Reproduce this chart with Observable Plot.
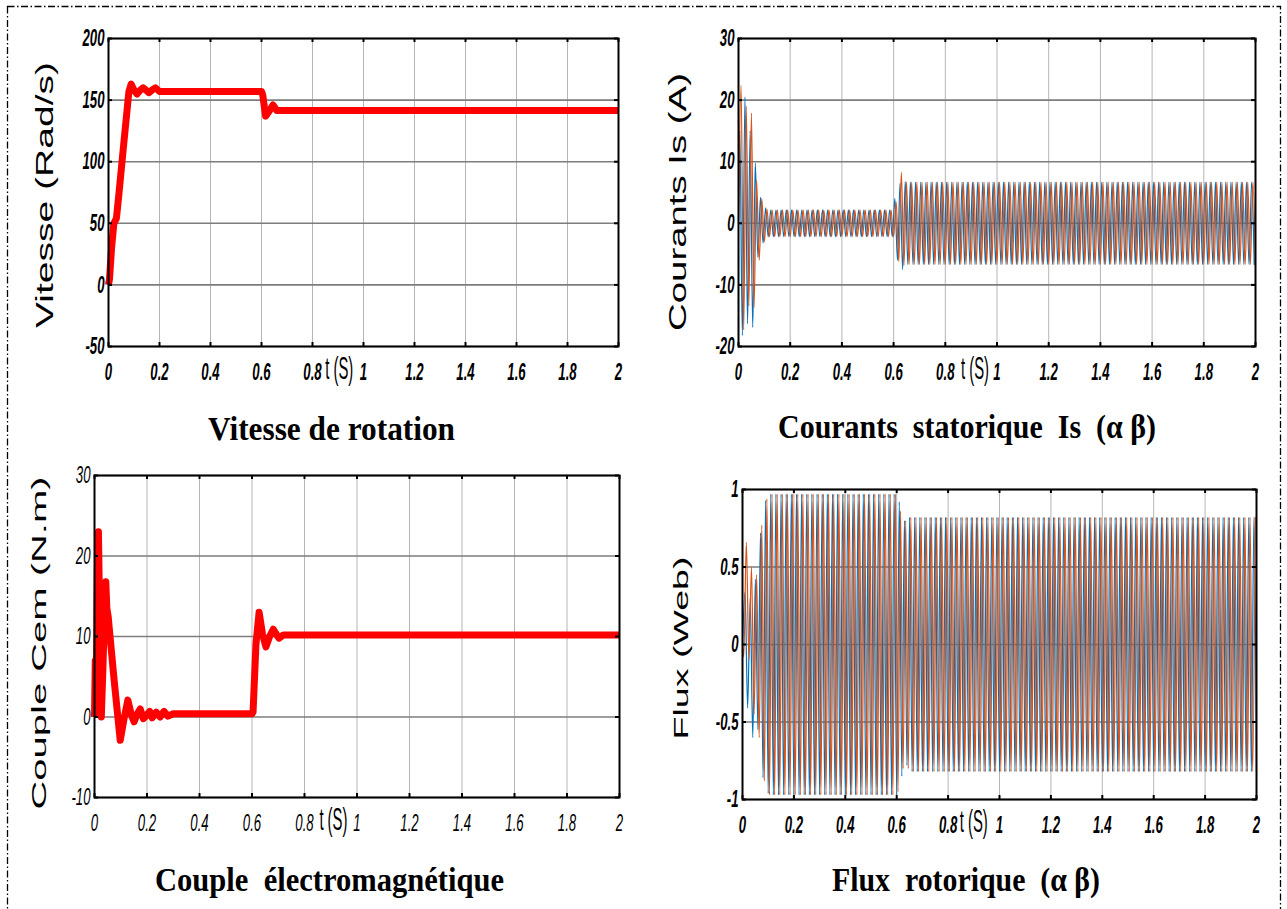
<!DOCTYPE html>
<html><head><meta charset="utf-8">
<script src="https://cdn.jsdelivr.net/npm/d3@7"></script>
<script src="https://cdn.jsdelivr.net/npm/@observablehq/plot@0.6"></script>
<style>
html,body{margin:0;padding:0;background:#fff;}
#page{position:relative;width:1287px;height:909px;overflow:hidden;background:#fff;}
.cell{position:absolute;}
#overlay{position:absolute;left:0;top:0;pointer-events:none;}
</style></head><body>
<div id="page">
<div class="cell" id="c0" style="left:0px;top:0px"></div>
<div class="cell" id="c1" style="left:640px;top:0px"></div>
<div class="cell" id="c2" style="left:0px;top:450px"></div>
<div class="cell" id="c3" style="left:640px;top:450px"></div>
<svg id="overlay" width="1287" height="909"></svg>
</div>
<script>
// ---------- tick values / labels ----------
const xTicks = [0, 0.2, 0.4, 0.6, 0.8, 1, 1.2, 1.4, 1.6, 1.8, 2];
const xTickLabels = ["0", "0.2", "0.4", "0.6", "0.8", "1", "1.2", "1.4", "1.6", "1.8", "2"];
const speedTicks = [-50, 0, 50, 100, 150, 200];
const speedTickLabels = ["-50", "0", "50", "100", "150", "200"];
const currentTicks = [-20, -10, 0, 10, 20, 30];
const currentTickLabels = ["-20", "-10", "0", "10", "20", "30"];
const torqueTicks = [-10, 0, 10, 20, 30];
const torqueTickLabels = ["-10", "0", "10", "20", "30"];
const fluxTicks = [-1, -0.5, 0, 0.5, 1];
const fluxTickLabels = ["-1", "-0.5", "0", "0.5", "1"];

const panelTitles = ["Vitesse de rotation", "Courants  statorique  Is  (\u03b1 \u03b2)", "Couple  \u00e9lectromagn\u00e9tique", "Flux  rotorique  (\u03b1 \u03b2)"];
const axisTitles = ["Vitesse (Rad/s)", "Courants Is (A)", "Couple Cem (N.m)", "Flux (Web)"];
const timeUnit = "t (S)";

// ---------- speed (rad/s) ----------
const speedT = [0, 0.004, 0.012, 0.021, 0.031, 0.04, 0.06, 0.08, 0.089, 0.1, 0.112, 0.124, 0.136, 0.147, 0.158, 0.17, 0.184, 0.2, 0.6, 0.605, 0.616, 0.63, 0.645, 0.66, 0.7, 2];
const speedV = [0, 5, 30, 50, 54, 72, 115, 157, 163, 158, 155, 158, 160, 158, 156, 158, 160, 157, 157, 154, 137, 141, 146, 141.5, 141.5, 141.5];

// ---------- torque (N.m) ----------
const torqueT = [0, 0.003, 0.006, 0.011, 0.015, 0.02, 0.026, 0.032, 0.038, 0.043, 0.047, 0.052, 0.075, 0.098, 0.112, 0.127, 0.14, 0.151, 0.163, 0.174, 0.186, 0.196, 0.21, 0.22, 0.235, 0.25, 0.265, 0.28, 0.3, 0.6, 0.604, 0.615, 0.627, 0.64, 0.653, 0.667, 0.681, 0.692, 0.703, 0.72, 2];
const torqueV = [0, 7, 1, 18, 23, 12, 0, 6, 13, 16.8, 13.5, 12.5, 4.5, -2.9, -0.3, 2.1, 0.3, -0.6, 0.4, 1.0, -0.2, 0.1, 0.7, -0.1, 0.6, 0, 0.7, 0.1, 0.4, 0.4, 0.6, 9, 13, 10.3, 8.7, 10, 10.9, 10.3, 9.8, 10.2, 10.2];

// ---------- stator currents: successive extrema, one every 0.01 s ----------
const extremaStep = 0.01;
const isAlphaStart = 0.005;   // first alpha extremum time (s)
const isAlphaPeaks = [
  15, -18.2, 20.5, -16.3, 15, -16.9, 9.8, -5.5, 4.2, -3.2, 2.5, -2.2,
  2.2, -2.2, 2.2, -2.2, 2.2, -2.2, 2.2, -2.2, 2.2, -2.2, 2.2, -2.2,
  2.2, -2.2, 2.2, -2.2, 2.2, -2.2, 2.2, -2.2, 2.2, -2.2, 2.2, -2.2,
  2.2, -2.2, 2.2, -2.2, 2.2, -2.2, 2.2, -2.2, 2.2, -2.2, 2.2, -2.2,
  2.2, -2.2, 2.2, -2.2, 2.2, -2.2, 2.2, -2.2, 2.2, -2.2, 2.2, -2.2,
  4, -6, 6.5, -7.5, 6.8,
  -6.7, 6.7, -6.7, 6.7, -6.7, 6.7, -6.7, 6.7, -6.7, 6.7, -6.7, 6.7,
  -6.7, 6.7, -6.7, 6.7, -6.7, 6.7, -6.7, 6.7, -6.7, 6.7, -6.7, 6.7,
  -6.7, 6.7, -6.7, 6.7, -6.7, 6.7, -6.7, 6.7, -6.7, 6.7, -6.7, 6.7,
  -6.7, 6.7, -6.7, 6.7, -6.7, 6.7, -6.7, 6.7, -6.7, 6.7, -6.7, 6.7,
  -6.7, 6.7, -6.7, 6.7, -6.7, 6.7, -6.7, 6.7, -6.7, 6.7, -6.7, 6.7,
  -6.7, 6.7, -6.7, 6.7, -6.7, 6.7, -6.7, 6.7, -6.7, 6.7, -6.7, 6.7,
  -6.7, 6.7, -6.7, 6.7, -6.7, 6.7, -6.7, 6.7, -6.7, 6.7, -6.7, 6.7,
  -6.7, 6.7, -6.7, 6.7, -6.7, 6.7, -6.7, 6.7, -6.7, 6.7, -6.7, 6.7,
  -6.7, 6.7, -6.7, 6.7, -6.7, 6.7, -6.7, 6.7, -6.7, 6.7, -6.7, 6.7,
  -6.7, 6.7, -6.7, 6.7, -6.7, 6.7, -6.7, 6.7, -6.7, 6.7, -6.7, 6.7,
  -6.7, 6.7, -6.7, 6.7, -6.7, 6.7, -6.7, 6.7, -6.7, 6.7, -6.7, 6.7,
  -6.7, 6.7, -6.7
];
const isBetaStart = 0;
const isBetaPeaks = [
  0, 22.4, -17.3, 19, -13.4, 17.9, -13.7, 7, -6, 4, -3, 2.3, -2.2,
  2.2, -2.2, 2.2, -2.2, 2.2, -2.2, 2.2, -2.2, 2.2, -2.2, 2.2, -2.2,
  2.2, -2.2, 2.2, -2.2, 2.2, -2.2, 2.2, -2.2, 2.2, -2.2, 2.2, -2.2,
  2.2, -2.2, 2.2, -2.2, 2.2, -2.2, 2.2, -2.2, 2.2, -2.2, 2.2, -2.2,
  2.2, -2.2, 2.2, -2.2, 2.2, -2.2, 2.2, -2.2, 2.2, -2.2, 2.2, -2.2,
  3.5, -6.2, 8.3, -6.8,
  6.7, -6.7, 6.7, -6.7, 6.7, -6.7, 6.7, -6.7, 6.7, -6.7, 6.7, -6.7,
  6.7, -6.7, 6.7, -6.7, 6.7, -6.7, 6.7, -6.7, 6.7, -6.7, 6.7, -6.7,
  6.7, -6.7, 6.7, -6.7, 6.7, -6.7, 6.7, -6.7, 6.7, -6.7, 6.7, -6.7,
  6.7, -6.7, 6.7, -6.7, 6.7, -6.7, 6.7, -6.7, 6.7, -6.7, 6.7, -6.7,
  6.7, -6.7, 6.7, -6.7, 6.7, -6.7, 6.7, -6.7, 6.7, -6.7, 6.7, -6.7,
  6.7, -6.7, 6.7, -6.7, 6.7, -6.7, 6.7, -6.7, 6.7, -6.7, 6.7, -6.7,
  6.7, -6.7, 6.7, -6.7, 6.7, -6.7, 6.7, -6.7, 6.7, -6.7, 6.7, -6.7,
  6.7, -6.7, 6.7, -6.7, 6.7, -6.7, 6.7, -6.7, 6.7, -6.7, 6.7, -6.7,
  6.7, -6.7, 6.7, -6.7, 6.7, -6.7, 6.7, -6.7, 6.7, -6.7, 6.7, -6.7,
  6.7, -6.7, 6.7, -6.7, 6.7, -6.7, 6.7, -6.7, 6.7, -6.7, 6.7, -6.7,
  6.7, -6.7, 6.7, -6.7, 6.7, -6.7, 6.7, -6.7, 6.7, -6.7, 6.7, -6.7,
  6.7, -6.7, 6.7, -6.7
];

// ---------- rotor flux: successive extrema, one every 0.01 s ----------
const fluxAlphaStart = 0;
const fluxAlphaPeaks = [
  0, 0.34, -0.41, 0.3, -0.6, 0.42, -0.55, 0.72, -0.86, 0.93, -0.96,
  0.97, -0.97, 0.97, -0.97, 0.97, -0.97, 0.97, -0.97, 0.97, -0.97, 0.97, -0.97,
  0.97, -0.97, 0.97, -0.97, 0.97, -0.97, 0.97, -0.97, 0.97, -0.97, 0.97, -0.97,
  0.97, -0.97, 0.97, -0.97, 0.97, -0.97, 0.97, -0.97, 0.97, -0.97, 0.97, -0.97,
  0.97, -0.97, 0.97, -0.97, 0.97, -0.97, 0.97, -0.97, 0.97, -0.97, 0.97, -0.97,
  0.97, -0.97,
  0.92, -0.85, 0.8, -0.78, 0.82,
  -0.82, 0.82, -0.82, 0.82, -0.82, 0.82, -0.82, 0.82, -0.82, 0.82, -0.82, 0.82,
  -0.82, 0.82, -0.82, 0.82, -0.82, 0.82, -0.82, 0.82, -0.82, 0.82, -0.82, 0.82,
  -0.82, 0.82, -0.82, 0.82, -0.82, 0.82, -0.82, 0.82, -0.82, 0.82, -0.82, 0.82,
  -0.82, 0.82, -0.82, 0.82, -0.82, 0.82, -0.82, 0.82, -0.82, 0.82, -0.82, 0.82,
  -0.82, 0.82, -0.82, 0.82, -0.82, 0.82, -0.82, 0.82, -0.82, 0.82, -0.82, 0.82,
  -0.82, 0.82, -0.82, 0.82, -0.82, 0.82, -0.82, 0.82, -0.82, 0.82, -0.82, 0.82,
  -0.82, 0.82, -0.82, 0.82, -0.82, 0.82, -0.82, 0.82, -0.82, 0.82, -0.82, 0.82,
  -0.82, 0.82, -0.82, 0.82, -0.82, 0.82, -0.82, 0.82, -0.82, 0.82, -0.82, 0.82,
  -0.82, 0.82, -0.82, 0.82, -0.82, 0.82, -0.82, 0.82, -0.82, 0.82, -0.82, 0.82,
  -0.82, 0.82, -0.82, 0.82, -0.82, 0.82, -0.82, 0.82, -0.82, 0.82, -0.82, 0.82,
  -0.82, 0.82, -0.82, 0.82, -0.82, 0.82, -0.82, 0.82, -0.82, 0.82, -0.82, 0.82,
  -0.82, 0.82, -0.82
];
const fluxBetaStart = 0.005;
const fluxBetaPeaks = [
  -0.08, 0.66, -0.1, 0.5, -0.45, 0.45, -0.6, 0.77, -0.88, 0.94, -0.97,
  0.97, -0.97, 0.97, -0.97, 0.97, -0.97, 0.97, -0.97, 0.97, -0.97, 0.97, -0.97,
  0.97, -0.97, 0.97, -0.97, 0.97, -0.97, 0.97, -0.97, 0.97, -0.97, 0.97, -0.97,
  0.97, -0.97, 0.97, -0.97, 0.97, -0.97, 0.97, -0.97, 0.97, -0.97, 0.97, -0.97,
  0.97, -0.97, 0.97, -0.97, 0.97, -0.97, 0.97, -0.97, 0.97, -0.97, 0.97, -0.97,
  0.97,
  -0.95, 0.86, -0.8, 0.8, -0.8, 0.82,
  -0.82, 0.82, -0.82, 0.82, -0.82, 0.82, -0.82, 0.82, -0.82, 0.82, -0.82, 0.82,
  -0.82, 0.82, -0.82, 0.82, -0.82, 0.82, -0.82, 0.82, -0.82, 0.82, -0.82, 0.82,
  -0.82, 0.82, -0.82, 0.82, -0.82, 0.82, -0.82, 0.82, -0.82, 0.82, -0.82, 0.82,
  -0.82, 0.82, -0.82, 0.82, -0.82, 0.82, -0.82, 0.82, -0.82, 0.82, -0.82, 0.82,
  -0.82, 0.82, -0.82, 0.82, -0.82, 0.82, -0.82, 0.82, -0.82, 0.82, -0.82, 0.82,
  -0.82, 0.82, -0.82, 0.82, -0.82, 0.82, -0.82, 0.82, -0.82, 0.82, -0.82, 0.82,
  -0.82, 0.82, -0.82, 0.82, -0.82, 0.82, -0.82, 0.82, -0.82, 0.82, -0.82, 0.82,
  -0.82, 0.82, -0.82, 0.82, -0.82, 0.82, -0.82, 0.82, -0.82, 0.82, -0.82, 0.82,
  -0.82, 0.82, -0.82, 0.82, -0.82, 0.82, -0.82, 0.82, -0.82, 0.82, -0.82, 0.82,
  -0.82, 0.82, -0.82, 0.82, -0.82, 0.82, -0.82, 0.82, -0.82, 0.82, -0.82, 0.82,
  -0.82, 0.82, -0.82, 0.82, -0.82, 0.82, -0.82, 0.82, -0.82, 0.82, -0.82, 0.82,
  -0.82, 0.82
];

// ---------- build tables ----------
const pairs = (T, V) => T.map((t, i) => ({t, v: V[i]}));
function extremaTable(start, values, origin) {
  const rows = origin === null ? [] : [{t: 0, v: origin}];
  values.forEach((v, i) => rows.push({t: start + i * extremaStep, v}));
  return rows;
}
const speedData = pairs(speedT, speedV);
const torqueData = pairs(torqueT, torqueV);
const isAlphaData = extremaTable(isAlphaStart, isAlphaPeaks, 0);
const isBetaData = extremaTable(isBetaStart, isBetaPeaks, null);
const fluxAlphaData = extremaTable(fluxAlphaStart, fluxAlphaPeaks, null);
const fluxBetaData = extremaTable(fluxBetaStart, fluxBetaPeaks, 0);

const BLUE = "#0072BD", ORANGE = "#D95319", RED = "#ff0000";

function redLine(data) {
  return [Plot.line(data, {x: "t", y: "v", stroke: RED, strokeWidth: 7, strokeLinejoin: "round", strokeLinecap: "butt"})];
}
function pairLines(a, b) {
  return [
    Plot.line(a, {x: "t", y: "v", stroke: BLUE, strokeWidth: 1.2, curve: "monotone-x"}),
    Plot.line(b, {x: "t", y: "v", stroke: ORANGE, strokeWidth: 1.2, curve: "monotone-x"})
  ];
}

const cells = [
  {id: "c0", width: 640, height: 400, margin: [38, 22, 54, 108], yDomain: [-50, 200], yTicks: speedTicks, yLabels: speedTickLabels, marks: redLine(speedData), bold: true, unitAt: 0.905},
  {id: "c1", width: 647, height: 400, margin: [38, 32, 54, 98], yDomain: [-20, 30], yTicks: currentTicks, yLabels: currentTickLabels, marks: pairLines(isAlphaData, isBetaData), bold: true, unitAt: 0.915},
  {id: "c2", width: 640, height: 400, margin: [25, 21, 53, 94], yDomain: [-10, 30], yTicks: torqueTicks, yLabels: torqueTickLabels, marks: redLine(torqueData), bold: false, unitAt: 0.91},
  {id: "c3", width: 647, height: 400, margin: [39, 31, 51, 102], yDomain: [-1, 1], yTicks: fluxTicks, yLabels: fluxTickLabels, marks: pairLines(fluxAlphaData, fluxBetaData), bold: true, unitAt: 0.9}
];

const FONT = "'Liberation Sans', Arial, sans-serif";
cells.forEach(c => {
  const [mt, mr, mb, ml] = c.margin;
  const innerW = c.width - ml - mr, innerH = c.height - mt - mb;
  const weight = c.bold ? "bold" : "normal";
  const chart = Plot.plot({
    width: c.width, height: c.height,
    marginTop: mt, marginRight: mr, marginBottom: mb, marginLeft: ml,
    style: {fontFamily: FONT, fontSize: "24px", background: "transparent", overflow: "visible", color: "#000"},
    x: {domain: [0, 2]},
    y: {domain: c.yDomain},
    marks: [
      Plot.gridX({ticks: xTicks, stroke: "#b5b5b5", strokeOpacity: 1, strokeWidth: 1}),
      Plot.gridY({ticks: c.yTicks, stroke: "#7d7d7d", strokeOpacity: 1, strokeWidth: 1.6}),
      ...c.marks,
      Plot.frame({stroke: "#000", strokeWidth: 2}),
      Plot.tickX(xTicks, {x: d => d, insetBottom: innerH - 4, stroke: "#000", strokeWidth: 2}),
      Plot.tickX(xTicks, {x: d => d, insetTop: innerH - 4, stroke: "#000", strokeWidth: 2}),
      Plot.tickY(c.yTicks, {y: d => d, insetRight: innerW - 4, stroke: "#000", strokeWidth: 2}),
      Plot.tickY(c.yTicks, {y: d => d, insetLeft: innerW - 4, stroke: "#000", strokeWidth: 2}),
      Plot.axisX({ticks: xTicks, tickSize: 0, tickPadding: 16, tickFormat: d => xTickLabels[xTicks.indexOf(d)], label: null,
        fontSize: 24, fontFamily: FONT, fontStyle: "italic", fontWeight: weight}),
      Plot.axisY({ticks: c.yTicks, tickSize: 0, tickPadding: 4, tickFormat: d => c.yLabels[c.yTicks.indexOf(d)], label: null,
        fontSize: 24, fontFamily: FONT, fontStyle: "italic", fontWeight: weight}),
      Plot.text([c.unitAt], {x: d => d, frameAnchor: "bottom", dy: 32, text: () => timeUnit, fontSize: 31, fontFamily: FONT, fontStyle: "normal", fontWeight: "normal"})
    ]
  });
  document.getElementById(c.id).appendChild(chart);
  // condense tick labels (narrow, tall digits as in the original figure)
  chart.querySelectorAll('g[aria-label$="tick label"] text').forEach(t => {
    const L = t.getComputedTextLength();
    if (L > 0) { t.setAttribute("textLength", (L * 0.55).toFixed(2)); t.setAttribute("lengthAdjust", "spacingAndGlyphs"); }
  });
  chart.querySelectorAll("text").forEach(t => {
    if (t.textContent === timeUnit) { t.setAttribute("textLength", 28); t.setAttribute("lengthAdjust", "spacingAndGlyphs"); }
  });
});

// ---------- overlay: border, panel titles, axis titles ----------
const NS = "http://www.w3.org/2000/svg";
const ov = document.getElementById("overlay");
const border = document.createElementNS(NS, "rect");
Object.entries({x: 7.5, y: 6.5, width: 1273, height: 904, fill: "none", stroke: "#000", "stroke-width": 1.3, "stroke-dasharray": "7 2.5 1.5 2.5"}).forEach(([k, v]) => border.setAttribute(k, v));
ov.appendChild(border);

const axisTitlePos = [
  {x: 53, y: 195, size: 23, len: 266},
  {x: 686, y: 202, size: 23.5, len: 258},
  {x: 45.5, y: 643, size: 21, len: 333},
  {x: 688, y: 648, size: 21, len: 183}
];
axisTitles.forEach((s, i) => {
  const p = axisTitlePos[i];
  const t = document.createElementNS(NS, "text");
  t.textContent = s;
  t.setAttribute("transform", `translate(${p.x},${p.y}) rotate(-90)`);
  t.setAttribute("text-anchor", "middle");
  t.setAttribute("font-family", FONT);
  t.setAttribute("font-size", p.size);
  t.setAttribute("textLength", p.len);
  t.setAttribute("lengthAdjust", "spacingAndGlyphs");
  ov.appendChild(t);
});

const panelTitlePos = [
  {x: 331.5, y: 440, len: 247},
  {x: 967, y: 438, len: 378},
  {x: 329.5, y: 890.5, len: 349},
  {x: 966, y: 890.5, len: 268}
];
panelTitles.forEach((s, i) => {
  const p = panelTitlePos[i];
  const t = document.createElementNS(NS, "text");
  t.textContent = s;
  t.setAttribute("x", p.x);
  t.setAttribute("y", p.y);
  t.setAttributeNS("http://www.w3.org/XML/1998/namespace", "xml:space", "preserve");
  t.style.whiteSpace = "pre";
  t.setAttribute("text-anchor", "middle");
  t.setAttribute("font-family", "'Liberation Serif', 'Times New Roman', serif");
  t.setAttribute("font-weight", "bold");
  t.setAttribute("font-size", 34);
  t.setAttribute("textLength", p.len);
  t.setAttribute("lengthAdjust", "spacingAndGlyphs");
  ov.appendChild(t);
});
</script>
</body></html>
